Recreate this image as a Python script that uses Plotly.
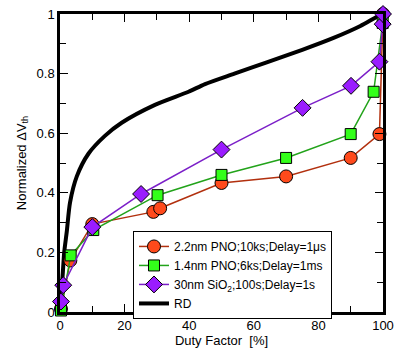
import plotly.graph_objects as go

# Duty factor [%] and normalized ΔVth
pno22_x = [0.3, 3.2, 10.0, 28.9, 31.0, 50.0, 70.0, 90.0, 98.9, 100.0]
pno22_y = [0.01, 0.173, 0.295, 0.336, 0.348, 0.433, 0.455, 0.517, 0.597, 1.0]

pno14_x = [0.3, 3.3, 10.3, 30.2, 50.0, 70.0, 90.0, 97.1, 99.9]
pno14_y = [0.005, 0.19, 0.275, 0.392, 0.46, 0.517, 0.597, 0.739, 0.97]

sio2_x = [0.3, 1.0, 10.0, 25.1, 50.0, 75.1, 90.1, 98.9, 99.9, 100.0]
sio2_y = [0.035, 0.09, 0.285, 0.396, 0.545, 0.685, 0.759, 0.84, 0.966, 1.0]

rd_x = [0.0, 0.3, 0.8, 1.3, 2.1, 3.1, 5.2, 8.8, 13.9, 19.1, 29.4, 39.8, 44.9, 54.0, 64.0, 75.0, 84.7, 93.0, 98.0, 100.0]
rd_y = [0.0, 0.06, 0.12, 0.2, 0.27, 0.367, 0.455, 0.531, 0.591, 0.635, 0.695, 0.739, 0.765, 0.80, 0.838, 0.88, 0.92, 0.96, 0.99, 1.0]

names = ["2.2nm PNO;10ks;Delay=1μs", "1.4nm PNO;6ks;Delay=1ms",
         "30nm SiO<sub>2</sub>;100s;Delay=1s", "RD"]

FONT = "Liberation Sans, Arial, sans-serif"

fig = go.Figure()
fig.add_trace(go.Scatter(x=rd_x, y=rd_y, mode="lines", name=names[3], legendrank=4,
                         line=dict(color="black", width=4, shape="spline", smoothing=0.7),
                         cliponaxis=False))
fig.add_trace(go.Scatter(x=pno22_x, y=pno22_y, mode="lines+markers", name=names[0], legendrank=1,
                         line=dict(color="#B2300E", width=1.5),
                         marker=dict(symbol="circle", size=13, color="#FF4A1C",
                                     line=dict(color="black", width=1)), cliponaxis=False))
fig.add_trace(go.Scatter(x=pno14_x, y=pno14_y, mode="lines+markers", name=names[1], legendrank=2,
                         line=dict(color="#22A31A", width=1.5),
                         marker=dict(symbol="square", size=11, color="#33FF1A",
                                     line=dict(color="black", width=1)), cliponaxis=False))
fig.add_trace(go.Scatter(x=sio2_x, y=sio2_y, mode="lines+markers", name=names[2], legendrank=3,
                         line=dict(color="#7B1FC8", width=1.5),
                         marker=dict(symbol="diamond", size=13, color="#9A1CFF",
                                     line=dict(color="black", width=1)), cliponaxis=False))

axis_common = dict(showgrid=False, zeroline=False, showline=True, linecolor="black", linewidth=2.5,
                   mirror="ticks", ticks="inside", ticklen=8, tickwidth=1.2, tickcolor="black",
                   tickfont=dict(family=FONT, size=13, color="black"))

fig.update_xaxes(range=[0, 100], dtick=20, tick0=0,
                 minor=dict(dtick=10, ticks="inside", ticklen=6, tickcolor="black", tickwidth=1.2),
                 title=dict(text="Duty Factor  [%]", font=dict(family=FONT, size=13, color="black"),
                            standoff=3),
                 **axis_common)
fig.update_yaxes(range=[0, 1], dtick=0.2, tick0=0, tickformat="~g",
                 minor=dict(dtick=0.1, ticks="inside", ticklen=6, tickcolor="black", tickwidth=1.2),
                 title=dict(text="Normalized ΔV<sub>th</sub>", font=dict(family=FONT, size=13, color="black"),
                            standoff=8),
                 **axis_common)

fig.update_layout(
    width=403, height=352,
    margin=dict(l=60, r=20, t=7, b=40),
    paper_bgcolor="white", plot_bgcolor="white",
    showlegend=True,
    legend=dict(x=0.226, y=0.272, xanchor="left", yanchor="top",
                bgcolor="white", bordercolor="black", borderwidth=1,
                font=dict(family=FONT, size=12, color="black"),
                tracegroupgap=0, itemwidth=30),
    font=dict(family=FONT, size=13, color="black"),
)

fig.write_html("out.html")
